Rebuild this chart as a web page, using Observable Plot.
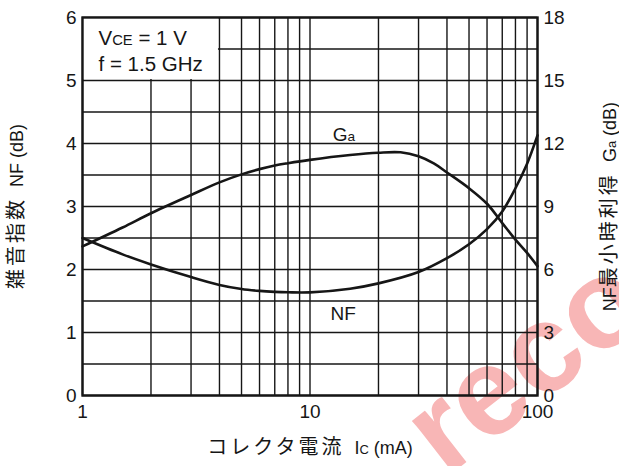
<!DOCTYPE html>
<html><head><meta charset="utf-8">
<script src="https://cdn.jsdelivr.net/npm/d3@7"></script>
<script src="https://cdn.jsdelivr.net/npm/@observablehq/plot@0.6"></script>
<style>
body{margin:0;background:#fff;}
#wrap{position:relative;width:619px;height:466px;overflow:hidden;}
#wm{position:absolute;left:0;top:0;z-index:0;}
#chart{position:absolute;left:0;top:0;z-index:1;}
</style></head><body>
<div id="wrap">
<svg id="wm" width="619" height="466"><text x="446" y="478" transform="rotate(-38 446 478)" font-family="Liberation Sans, Arial, sans-serif" font-weight="bold" font-size="125" fill="#f8b6b6">reco</text></svg>
<div id="chart"></div>
</div>
<script>
// Collector current (mA)
const nfCurrent = [1, 1.5, 2, 3, 4, 5, 6, 7, 8, 10, 15, 20, 30, 40, 50, 60, 70, 80, 90, 100];
// Noise figure NF (dB)
const nfValues  = [2.5, 2.24, 2.08, 1.88, 1.755, 1.69, 1.66, 1.645, 1.638, 1.637, 1.695, 1.78, 1.96, 2.18, 2.4, 2.64, 2.92, 3.29, 3.68, 4.13];
// Collector current (mA)
const gaCurrent = [1, 1.5, 2, 3, 4, 5, 6, 7, 8, 10, 15, 20, 25, 30, 35, 40, 50, 60, 70, 80, 90, 100];
// Associated gain Ga (dB)
const gaValues  = [7.1, 8.0, 8.68, 9.55, 10.15, 10.53, 10.78, 10.95, 11.06, 11.22, 11.45, 11.56, 11.58, 11.39, 11.05, 10.62, 9.87, 9.13, 8.21, 7.42, 6.79, 6.16];

const xTicks  = [1, 10, 100];
const xGrid   = [1, 2, 3, 4, 5, 6, 7, 8, 9, 10, 20, 30, 40, 50, 60, 70, 80, 90, 100];
const nfTicks = [0, 1, 2, 3, 4, 5, 6];
const gaTicks = [0, 3, 6, 9, 12, 15, 18];
const yGrid   = [0, 0.5, 1, 1.5, 2, 2.5, 3, 3.5, 4, 4.5, 5, 5.5, 6];

const xTitle  = "コレクタ電流  I{C} (mA)";
const nfTitle = "雑音指数  NF (dB)";
const gaTitle = "NF最小時利得  G{a} (dB)";
const condLines = ["V{CE} = 1 V", "f = 1.5 GHz"];
const condY = [5.66, 5.25];
const curveNames = [{name: "G{a}", x: 12.6, y: 4.14}, {name: "NF", x: 12.3, y: 1.29}];

const gaScale = 3; // right axis dB per left-axis dB

const nfData = nfCurrent.map((c, i) => ({c, v: nfValues[i]}));
const gaData = gaCurrent.map((c, i) => ({c, v: gaValues[i] / gaScale}));
const ink = "#161616";

const chart = Plot.plot({
  width: 619,
  height: 466,
  marginLeft: 82,
  marginRight: 82,
  marginTop: 17,
  marginBottom: 71,
  style: {fontFamily: "'Liberation Sans', Arial, 'Noto Sans CJK JP', sans-serif", fontSize: "19px", color: ink, background: "transparent"},
  x: {type: "log", domain: [1, 100]},
  y: {domain: [0, 6]},
  marks: [
    Plot.ruleX(xGrid, {x: d => d, stroke: ink, strokeWidth: 1.4}),
    Plot.ruleY(yGrid, {y: d => d, stroke: ink, strokeWidth: 1.4}),
    Plot.rect([0], {x1: 1, x2: 4, y1: 5, y2: 6, fill: "white", insetLeft: 1, insetRight: 1, insetBottom: 1, insetTop: 1}),
    Plot.line(gaData, {x: "c", y: "v", curve: "catmull-rom", stroke: ink, strokeWidth: 2.6}),
    Plot.line(nfData, {x: "c", y: "v", curve: "catmull-rom", stroke: ink, strokeWidth: 2.6}),
    Plot.frame({stroke: ink, strokeWidth: 2.4}),
    Plot.axisX(xTicks, {tickSize: 0, tickPadding: 9, tickFormat: d => String(d), label: null, fontSize: 19}),
    Plot.axisY(nfTicks, {anchor: "left", tickSize: 0, tickPadding: 6, tickFormat: d => String(d), label: null, fontSize: 19}),
    Plot.axisY(gaTicks.map(g => g / gaScale), {anchor: "right", tickSize: 0, tickPadding: 6, tickFormat: d => String(Math.round(d * gaScale)), label: null, fontSize: 19}),
    Plot.text(condLines, {x: 1, y: (d, i) => condY[i], text: d => d, textAnchor: "start", dx: 16, fontSize: 20.5}),
    Plot.text(curveNames, {x: "x", y: "y", text: "name", textAnchor: "start", fontSize: 19}),
    Plot.text([xTitle], {frameAnchor: "bottom", textAnchor: "middle", dy: 58, text: d => d, fontSize: 18}),
    Plot.text([nfTitle], {frameAnchor: "left", textAnchor: "middle", dx: -65, rotate: -90, text: d => d, fontSize: 18}),
    Plot.text([gaTitle], {frameAnchor: "right", textAnchor: "middle", dx: 73, rotate: -90, text: d => d, fontSize: 18})
  ]
});

// subscripts {..} and CJK runs as tspans
const cjk = /[\u3000-\u9fff\uff00-\uffef]+/;
d3.select(chart).selectAll("text").each(function() {
  const t = this.textContent;
  if (!t.includes("{") && !cjk.test(t)) return;
  const sel = d3.select(this);
  sel.text(null);
  const parts = t.split(/(\{[^}]*\}|[\u3000-\u9fff\uff00-\uffef]+)/).filter(s => s.length);
  for (const p of parts) {
    if (p.startsWith("{")) {
      sel.append("tspan").attr("font-size", "0.72em").text(p.slice(1, -1));
    } else if (cjk.test(p)) {
      sel.append("tspan").attr("font-size", "20px").attr("letter-spacing", "3px").text(p);
    } else {
      sel.append("tspan").text(p);
    }
  }
});

document.getElementById("chart").appendChild(chart);
</script>
</body></html>
